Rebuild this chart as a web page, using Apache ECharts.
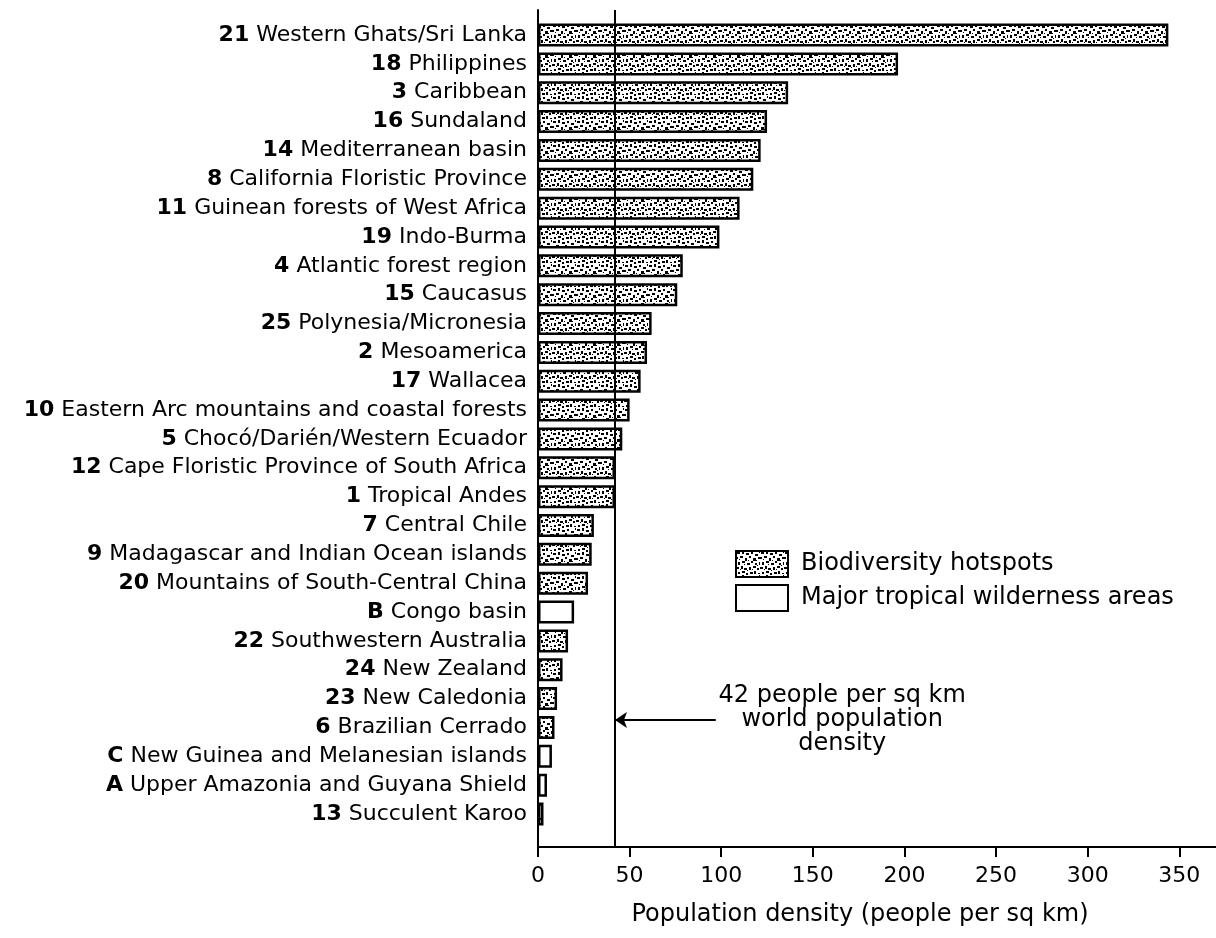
<!DOCTYPE html>
<html>
<head>
<meta charset="utf-8">
<title>Population density in hotspots</title>
<script src="https://cdn.jsdelivr.net/npm/echarts@6/dist/echarts.min.js"></script>
<style>
    html, body {margin: 0; padding: 0; background: #fff;}
    #density_chart {width: 1216px; height: 938px;}
</style>
</head>
<body>
<div id="density_chart"></div>
<script>
//***************数据*************************
var region_names = [
    '21 Western Ghats/Sri Lanka', '18 Philippines', '3 Caribbean', '16 Sundaland',
    '14 Mediterranean basin', '8 California Floristic Province', '11 Guinean forests of West Africa',
    '19 Indo-Burma', '4 Atlantic forest region', '15 Caucasus', '25 Polynesia/Micronesia',
    '2 Mesoamerica', '17 Wallacea', '10 Eastern Arc mountains and coastal forests',
    '5 Chocó/Darién/Western Ecuador', '12 Cape Floristic Province of South Africa', '1 Tropical Andes',
    '7 Central Chile', '9 Madagascar and Indian Ocean islands', '20 Mountains of South-Central China',
    'B Congo basin', '22 Southwestern Australia', '24 New Zealand', '23 New Caledonia',
    '6 Brazilian Cerrado', 'C New Guinea and Melanesian islands', 'A Upper Amazonia and Guyana Shield',
    '13 Succulent Karoo'
];
var density_values = [
    344, 196.5, 136.5, 125, 121.5, 117.5, 110, 99, 79, 76, 62, 59.5, 56, 50,
    46, 42, 42, 30.5, 29.3, 27.3, 19.7, 16.4, 13.4, 10.4, 9, 7.6, 4.9, 3
];
var wilderness_ids = ['A', 'B', 'C'];
var series_names = ['Biodiversity hotspots', 'Major tropical wilderness areas'];
var x_min = 0, x_max = 370, x_step = 50;
var world_density = 42;
var note_lines = ['42 people per sq km', 'world population', 'density'];
var arrow_from = 97, arrow_row = 23.75, note_x = 166;

//***************斑点填充***********************************
var speckle = [
    [1,1,3,2],[6,0,2,3],[10,2,3,2],[15,1,2,2],[19,3,3,2],[23,0,1,2],
    [0,6,2,2],[4,5,3,2],[9,7,2,3],[13,5,2,2],[17,7,3,3],[22,6,2,2],
    [2,11,2,3],[6,10,3,2],[11,12,3,2],[15,10,2,2],[19,12,2,2],[23,11,1,3],
    [0,16,3,2],[5,15,2,3],[8,17,3,2],[13,16,2,3],[17,15,3,2],[21,17,2,2],
    [2,21,2,2],[6,20,3,2],[10,22,2,2],[14,21,3,2],[18,20,2,3],[22,22,2,1],
    [3,8,1,1],[12,9,1,1],[20,9,1,1],[8,13,1,1],[16,18,1,1],[4,18,1,1],[11,19,1,1],[21,14,1,1]
];
var tile = document.createElement('canvas');
tile.width = 24;
tile.height = 24;
var tile_ctx = tile.getContext('2d');
tile_ctx.fillStyle = '#fff';
tile_ctx.fillRect(0, 0, 24, 24);
tile_ctx.fillStyle = '#000';
speckle.forEach(function (d) { tile_ctx.fillRect(d[0], d[1], d[2], d[3]); });

//***************整理数据***********************************
var hotspot_data = [], wilderness_data = [];
region_names.forEach(function (name, i) {
    var id = name.split(' ')[0];
    if (wilderness_ids.indexOf(id) >= 0) {
        hotspot_data.push('-');
        wilderness_data.push(density_values[i]);
    } else {
        hotspot_data.push(density_values[i]);
        wilderness_data.push('-');
    }
});

//***************初始化图表***********************************
var density_dom = document.getElementById('density_chart');
var density_chart = echarts.init(density_dom, null, {renderer: 'canvas'});

var font = 'DejaVu Sans';
var black_line = {color: '#000', width: 2};

density_chart.setOption({
    animation: false,
    backgroundColor: '#fff',
    textStyle: {fontFamily: font, color: '#000'},
    legend: {
        data: series_names,
        orient: 'vertical',
        left: 730,
        top: 545,
        itemWidth: 52,
        itemHeight: 26,
        itemGap: 6,
        icon: 'rect',
        selectedMode: false,
        textStyle: {fontFamily: font, fontSize: 24, color: '#000', padding: [0, 0, 0, 8]}
    },
    grid: [
        {left: 538, right: 0, top: 20.6, height: 807.8},
        {left: 538, right: 0, top: 10, bottom: 91}
    ],
    xAxis: [
        {gridIndex: 0, type: 'value', min: x_min, max: x_max, show: false},
        {
            gridIndex: 1,
            type: 'value',
            min: x_min,
            max: x_max,
            interval: x_step,
            axisLine: {show: true, onZero: false, lineStyle: black_line},
            axisTick: {show: true, length: 10, lineStyle: black_line},
            axisLabel: {fontFamily: font, fontSize: 22, color: '#000', margin: 18, showMaxLabel: false},
            splitLine: {show: false},
            name: 'Population density (people per sq km)',
            nameLocation: 'middle',
            nameGap: 56,
            nameTextStyle: {fontFamily: font, fontSize: 24, color: '#000', padding: [0, 34, 0, 0]}
        }
    ],
    yAxis: [
        {
            gridIndex: 0,
            type: 'category',
            inverse: true,
            data: region_names,
            axisLine: {show: false},
            axisTick: {show: false},
            axisLabel: {
                margin: 11,
                fontFamily: font,
                fontSize: 22,
                color: '#000',
                formatter: function (v) {
                    var k = v.indexOf(' ');
                    return '{n|' + v.slice(0, k) + '} {t|' + v.slice(k + 1) + '}';
                },
                rich: {
                    n: {fontFamily: font, fontSize: 22, fontWeight: 'bold', color: '#000'},
                    t: {fontFamily: font, fontSize: 22, color: '#000'}
                }
            }
        },
        {
            gridIndex: 1,
            type: 'value',
            min: -0.87,
            max: 28.15,
            inverse: true,
            axisLine: {show: true, onZero: false, lineStyle: black_line},
            axisTick: {show: false},
            axisLabel: {show: false},
            splitLine: {show: false}
        }
    ],
    series: [
        {
            name: series_names[0],
            type: 'bar',
            xAxisIndex: 0,
            yAxisIndex: 0,
            stack: 'density',
            barWidth: 23,
            itemStyle: {color: {image: tile, repeat: 'repeat'}, borderColor: '#000', borderWidth: 2.5},
            data: hotspot_data
        },
        {
            name: series_names[1],
            type: 'bar',
            xAxisIndex: 0,
            yAxisIndex: 0,
            stack: 'density',
            barWidth: 23,
            itemStyle: {color: '#fff', borderColor: '#000', borderWidth: 2.5},
            data: wilderness_data
        },
        {
            // 世界平均人口密度
            name: 'world',
            type: 'line',
            xAxisIndex: 1,
            yAxisIndex: 1,
            silent: true,
            showSymbol: false,
            data: [[world_density, arrow_row]],
            markLine: {
                silent: true,
                symbol: ['none', 'none'],
                symbolSize: 12,
                lineStyle: {color: '#000', width: 2, type: 'solid'},
                label: {show: false},
                data: [
                    {xAxis: world_density},
                    [
                        {coord: [arrow_from, arrow_row], symbol: 'none'},
                        {coord: [world_density, arrow_row], symbol: 'arrow'}
                    ]
                ]
            },
            markPoint: {
                silent: true,
                symbol: 'circle',
                symbolSize: 1,
                itemStyle: {color: 'rgba(0,0,0,0)'},
                label: {
                    show: true,
                    position: 'inside',
                    align: 'center',
                    verticalAlign: 'middle',
                    fontFamily: font,
                    fontSize: 24,
                    lineHeight: 24,
                    color: '#000',
                    formatter: note_lines.join('\n')
                },
                data: [{coord: [note_x, arrow_row]}]
            }
        }
    ]
});

window.addEventListener('resize', function () { density_chart.resize(); });
</script>
</body>
</html>
